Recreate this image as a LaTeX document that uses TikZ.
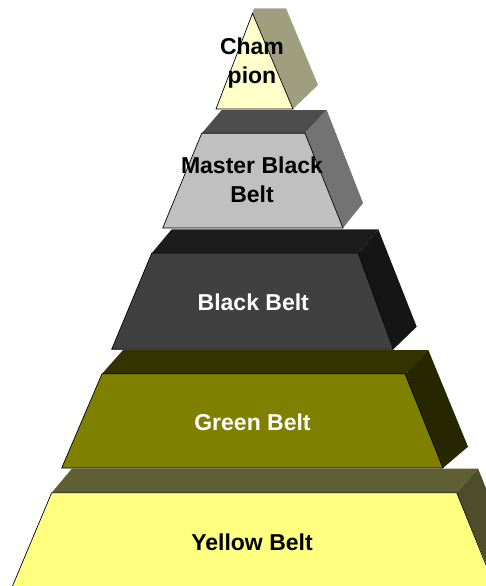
\documentclass[tikz,border=0pt]{standalone}
\usepackage{fontspec}
\setmainfont{Liberation Sans}
\definecolor{champFront}{HTML}{FFFFCC}
\definecolor{champSide}{HTML}{9F9F80}
\definecolor{mbbFront}{HTML}{C0C0C0}
\definecolor{mbbTop}{HTML}{4D4D4D}
\definecolor{mbbSide}{HTML}{737373}
\definecolor{bbFront}{HTML}{404040}
\definecolor{bbTop}{HTML}{1C1C1C}
\definecolor{bbSide}{HTML}{151515}
\definecolor{gbFront}{HTML}{808000}
\definecolor{gbTop}{HTML}{333300}
\definecolor{gbSide}{HTML}{262600}
\definecolor{ybFront}{HTML}{FFFF80}
\definecolor{ybTop}{HTML}{5F5F33}
\definecolor{ybSide}{HTML}{4D4D2B}
\tikzset{
  front/.style={draw=black,line width=0.7pt,line join=miter},
  lbl/.style={font=\fontsize{23}{29}\selectfont\bfseries,inner sep=0pt,align=center},
}
\begin{document}
\begin{tikzpicture}[x=1pt,y=-1pt]
\useasboundingbox (0,0) rectangle (486,586);
\clip (0,0) rectangle (486,586);
% Yellow Belt
\fill[ybTop] (51.7,492.7) -- (72,468.5) -- (478,468.5) -- (456.7,492.7) -- cycle;
\fill[ybSide] (456.7,492.7) -- (478,468.5) -- (520,572) -- (500,597) -- cycle;
\filldraw[front,fill=ybFront] (51.7,492.7) -- (456.7,492.7) -- (497,592) -- (10,592) -- cycle;
\node[lbl,text=black,anchor=base] (yb) at (252,550) {Yellow Belt};
% Green Belt
\fill[gbTop] (102,373.8) -- (123,350) -- (428.3,350) -- (405,373.8) -- cycle;
\fill[gbSide] (405,373.8) -- (428.3,350) -- (468,446.7) -- (443,468) -- cycle;
\filldraw[front,fill=gbFront] (102,373.8) -- (405,373.8) -- (443,468) -- (61.7,468) -- cycle;
\node[lbl,text=white,anchor=base] (gb) at (252.5,430) {Green Belt};
% Black Belt
\fill[bbTop] (151.7,253.3) -- (171.7,229.3) -- (378.3,229.3) -- (358.3,253.3) -- cycle;
\fill[bbSide] (358.3,253.3) -- (378.3,229.3) -- (416.7,326.7) -- (393.3,349.3) -- cycle;
\filldraw[front,fill=bbFront] (151.7,253.3) -- (358.3,253.3) -- (393.3,349.3) -- (111.7,349.3) -- cycle;
\node[lbl,text=white,anchor=base] (bb) at (253.3,310) {Black Belt};
% Master Black Belt
\fill[mbbTop] (201.7,133.3) -- (221.7,110) -- (326.7,110) -- (305,133.3) -- cycle;
\fill[mbbSide] (305,133.3) -- (326.7,110) -- (363,203) -- (343,228) -- cycle;
\filldraw[front,fill=mbbFront] (201.7,133.3) -- (305,133.3) -- (343,228) -- (162.7,228) -- cycle;
\node[lbl,text=black] (mbb) at (252,180) {Master Black\\Belt};
% Champion
\fill[champSide] (252.5,13.3) -- (254,8.3) -- (286,8.3) -- (318,85) -- (293,109) -- cycle;
\filldraw[front,fill=champFront] (252.5,13.3) -- (293,109) -- (216,109) -- cycle;
\node[lbl,text=black] (ch) at (252,63.5) {Cham\\pion};
\end{tikzpicture}
\end{document}
